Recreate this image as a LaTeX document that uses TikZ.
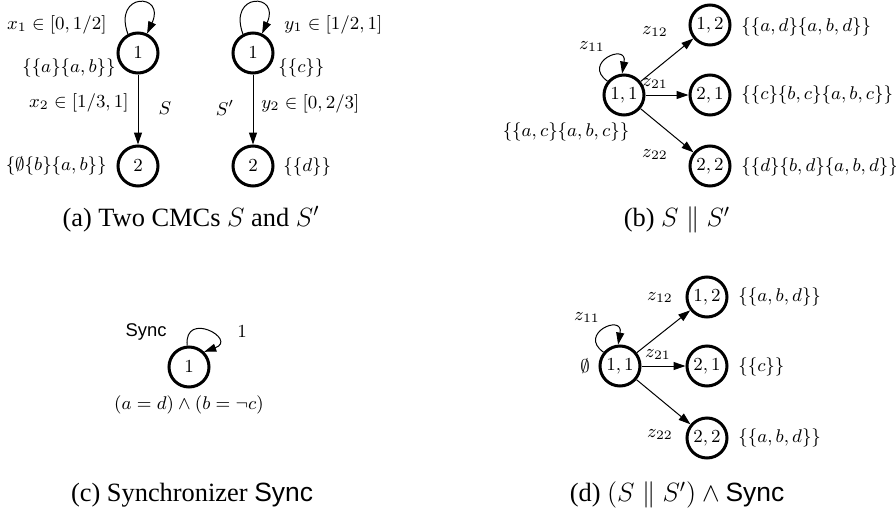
\RequirePackage{fix-cm}
\documentclass[tikz,border=0pt]{standalone}
\usepackage[no-math]{fontspec}
\setmainfont{Liberation Serif}
\setsansfont{Liberation Sans}
\usetikzlibrary{arrows.meta}
\newcommand{\lblfont}{\fontsize{9.2}{11}\selectfont}
\newcommand{\capfont}{\fontsize{13.2}{16}\selectfont}
\newcommand{\sync}{\textsf{Sync}}
\tikzset{
  state/.style={circle,draw,line width=1.5pt,minimum size=20pt,inner sep=0pt,
                font=\lblfont},
  lbl/.style={font=\lblfont,inner sep=1pt},
  captxt/.style={font=\capfont,inner sep=0pt},
  tedge/.style={-{Triangle[length=6pt,width=4pt]},line width=0.5pt},
}
\begin{document}
\begin{tikzpicture}[x=0.5pt,y=0.5pt]
  \useasboundingbox (0,0) rectangle (896,-515);
  % (a) two CMCs
  \node[state] (a1) at (138,-53) {$1$};
  \node[state] (a2) at (138,-166) {$2$};
  \node[state] (b1) at (253,-53) {$1$};
  \node[state] (b2) at (253,-166) {$2$};
  \draw[tedge] (a1.118) .. controls +(110:45) and +(65:45) .. (a1.65);
  \draw[tedge] (b1.118) .. controls +(110:45) and +(65:45) .. (b1.65);
  \draw[tedge] (a1) -- (a2);
  \draw[tedge] (b1) -- (b2);
  \node[lbl,anchor=east] (ax1) at (109,-25) {$x_1\in[0,1/2]$};
  \node[lbl,anchor=east] (aa1) at (118,-68) {$\{\{a\}\{a,b\}\}$};
  \node[lbl,anchor=east] (ax2) at (131,-103) {$x_2\in[1/3,1]$};
  \node[lbl] (aS) at (165,-108) {$S$};
  \node[lbl,anchor=east] (aa2) at (109,-166) {$\{\emptyset\{b\}\{a,b\}\}$};
  \node[lbl,anchor=west] (by1) at (282,-25) {$y_1\in[1/2,1]$};
  \node[lbl,anchor=west] (bb1) at (276,-68) {$\{\{c\}\}$};
  \node[lbl] (bS) at (225,-108) {$S'$};
  \node[lbl,anchor=west] (by2) at (259,-104) {$y_2\in[0,2/3]$};
  \node[lbl,anchor=west] (bb2) at (281,-167) {$\{\{d\}\}$};
  \node[captxt] (capa) at (191,-219) {(a) Two CMCs $S$ and $S'$};
  % (b) S || S'
  \node[state] (p11) at (624,-95) {$1,1$};
  \node[state] (p12) at (710,-25) {$1,2$};
  \node[state] (p21) at (710,-95) {$2,1$};
  \node[state] (p22) at (710,-166) {$2,2$};
  \draw[tedge] (p11.140) .. controls +(145:32) and +(80:32) .. (p11.95);
  \draw[tedge] (p11) -- (p12);
  \draw[tedge] (p11) -- (p21);
  \draw[tedge] (p11) -- (p22);
  \node[lbl] (pz11) at (592,-47) {$z_{11}$};
  \node[lbl] (pz12) at (655,-32) {$z_{12}$};
  \node[lbl] (pz21) at (655,-84) {$z_{21}$};
  \node[lbl] (pz22) at (655,-155) {$z_{22}$};
  \node[lbl] (pa11) at (566,-132) {$\{\{a,c\}\{a,b,c\}\}$};
  \node[lbl,anchor=west] (pa12) at (739,-27) {$\{\{a,d\}\{a,b,d\}\}$};
  \node[lbl,anchor=west] (pa21) at (739,-95) {$\{\{c\}\{b,c\}\{a,b,c\}\}$};
  \node[lbl,anchor=west] (pa22) at (739,-167) {$\{\{d\}\{b,d\}\{a,b,d\}\}$};
  \node[captxt] (capb) at (677,-220) {(b) $S\parallel S'$};
  % (c) synchronizer
  \node[state] (c1) at (189,-367) {$1$};
  \draw[tedge] (c1.95) .. controls +(95:36) and +(20:36) .. (c1.45);
  \node[lbl] (csync) at (146,-332) {\sync};
  \node[lbl] (cone) at (242,-332) {$1$};
  \node[lbl] (cform) at (189,-405) {$(a=d)\wedge(b=\neg c)$};
  \node[captxt] (capc) at (192,-495) {(c) Synchronizer \sync};
  % (d) (S || S') and Sync
  \node[state] (q11) at (620,-366) {$1,1$};
  \node[state] (q12) at (707,-297) {$1,2$};
  \node[state] (q21) at (707,-366) {$2,1$};
  \node[state] (q22) at (707,-438) {$2,2$};
  \draw[tedge] (q11.140) .. controls +(145:32) and +(80:32) .. (q11.95);
  \draw[tedge] (q11) -- (q12);
  \draw[tedge] (q11) -- (q21);
  \draw[tedge] (q11) -- (q22);
  \node[lbl] (qz11) at (587,-318) {$z_{11}$};
  \node[lbl] (qz12) at (660,-298) {$z_{12}$};
  \node[lbl] (qz21) at (658,-355) {$z_{21}$};
  \node[lbl] (qz22) at (660,-435) {$z_{22}$};
  \node[lbl] (qa11) at (585,-366) {$\emptyset$};
  \node[lbl,anchor=west] (qa12) at (736,-297) {$\{\{a,b,d\}\}$};
  \node[lbl,anchor=west] (qa21) at (736,-367) {$\{\{c\}\}$};
  \node[lbl,anchor=west] (qa22) at (736,-438) {$\{\{a,b,d\}\}$};
  \node[captxt] (capd) at (677,-495) {(d) $(S\parallel S')\wedge\mbox{\sync}$};
\end{tikzpicture}
\end{document}
